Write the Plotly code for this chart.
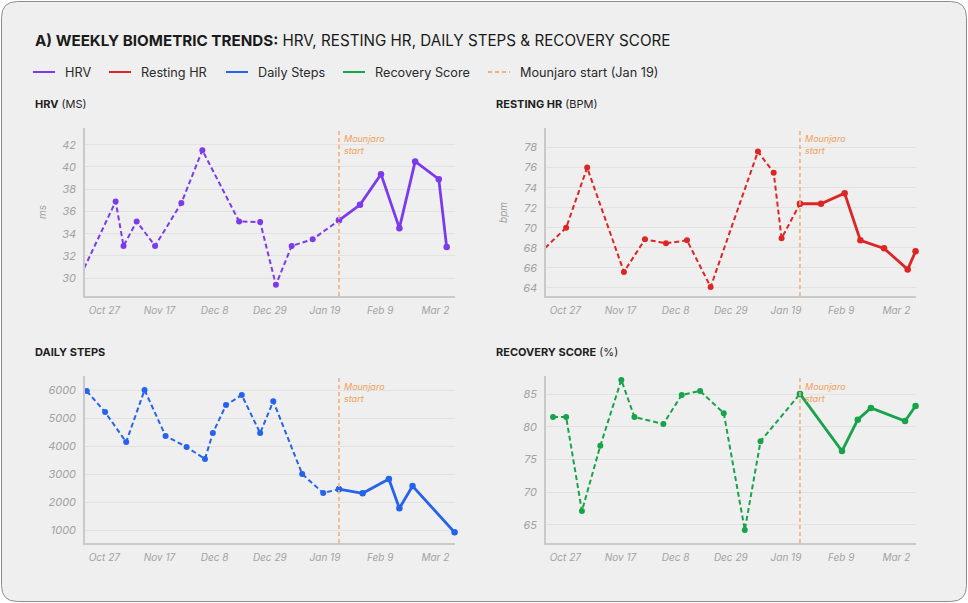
import plotly.graph_objects as go

W, H = 968, 603

# ---------------- data ----------------
MOUNJARO_START = "2025-01-19"

hrv_dates = ["2024-10-14", "2024-10-26", "2024-10-29", "2024-11-03", "2024-11-10", "2024-11-20",
             "2024-11-28", "2024-12-12", "2024-12-20", "2024-12-26", "2025-01-01", "2025-01-09",
             "2025-01-19", "2025-01-27", "2025-02-04", "2025-02-11", "2025-02-17", "2025-02-26",
             "2025-03-01"]
hrv_values = [30.9, 36.9, 32.9, 35.1, 32.9, 36.75, 41.5, 35.1, 35.05, 29.4, 32.9, 33.5,
              35.2, 36.6, 39.35, 34.5, 40.5, 38.9, 32.8]

rhr_dates = ["2024-10-14", "2024-10-22", "2024-10-30", "2024-11-13", "2024-11-21", "2024-11-29",
             "2024-12-07", "2024-12-16", "2025-01-03", "2025-01-09", "2025-01-12", "2025-01-19",
             "2025-01-27", "2025-02-05", "2025-02-11", "2025-02-20", "2025-03-01", "2025-03-04"]
rhr_values = [68.0, 70.0, 76.0, 65.6, 68.85, 68.45, 68.75, 64.1, 77.6, 75.5, 68.95, 72.4,
              72.4, 73.45, 68.75, 67.95, 65.85, 67.65]

steps_dates = ["2024-10-15", "2024-10-22", "2024-10-30", "2024-11-06", "2024-11-14", "2024-11-22",
               "2024-11-29", "2024-12-02", "2024-12-07", "2024-12-13", "2024-12-20", "2024-12-25",
               "2025-01-05", "2025-01-13", "2025-01-19", "2025-01-28", "2025-02-07", "2025-02-11",
               "2025-02-16", "2025-03-04"]
steps_values = [5960, 5210, 4140, 6000, 4360, 3960, 3540, 4460, 5460, 5820, 4460, 5600,
                3000, 2320, 2460, 2310, 2820, 1780, 2570, 920]

rec_dates = ["2024-10-17", "2024-10-22", "2024-10-28", "2024-11-04", "2024-11-12", "2024-11-17",
             "2024-11-28", "2024-12-05", "2024-12-12", "2024-12-21", "2024-12-29", "2025-01-04",
             "2025-01-19", "2025-02-04", "2025-02-10", "2025-02-15", "2025-02-28", "2025-03-04"]
rec_values = [81.5, 81.5, 67.1, 77.1, 87.2, 81.5, 80.45, 84.9, 85.5, 82.1, 64.2, 77.8,
              85.05, 76.3, 81.1, 82.9, 80.9, 83.2]

tick_dates = ["2024-10-27", "2024-11-17", "2024-12-08", "2024-12-29", "2025-01-19", "2025-02-09", "2025-03-02"]
tick_labels = ["Oct 27", "Nov 17", "Dec 8", "Dec 29", "Jan 19", "Feb 9", "Mar 2"]

series_names = ["HRV", "Resting HR", "Daily Steps", "Recovery Score"]
series_colors = ["#7c3aed", "#dc2626", "#2563eb", "#16a34a"]
ORANGE = "#f3b07a"
ORANGE_TXT = "#ef9f55"

# ---------------- helpers ----------------
def X(px):
    return px / W

def Y(py):
    return 1 - py / H

panels = [
    dict(dates=hrv_dates, vals=hrv_values, color=series_colors[0], ax="", rng=[28.4, 43.5], dtick=2,
         dom_x=[85, 455], dom_y=[128, 296], title="<b>HRV</b> (MS)", tx=33, ty=104, ytitle="ms", ytx=42),
    dict(dates=rhr_dates, vals=rhr_values, color=series_colors[1], ax="2", rng=[63.2, 79.95], dtick=2,
         dom_x=[546, 916], dom_y=[128, 296], title="<b>RESTING HR</b> (BPM)", tx=494, ty=104, ytitle="bpm", ytx=503),
    dict(dates=steps_dates, vals=steps_values, color=series_colors[2], ax="3", rng=[536, 6500], dtick=1000,
         dom_x=[85, 455], dom_y=[376, 543], title="<b>DAILY STEPS</b>", tx=33, ty=352, ytitle=None, ytx=None),
    dict(dates=rec_dates, vals=rec_values, color=series_colors[3], ax="4", rng=[62.2, 87.8], dtick=5,
         dom_x=[546, 916], dom_y=[376, 543], title="<b>RECOVERY SCORE</b> (%)", tx=494, ty=352, ytitle=None, ytx=None),
]

fig = go.Figure()
shapes = []
annotations = []

# card background
l, t, R, B, r = 1.5, 1.5, 966.5, 601.5, 16
card_path = (
    f"M {X(l+r)} {Y(t)} L {X(R-r)} {Y(t)} Q {X(R)} {Y(t)} {X(R)} {Y(t+r)} "
    f"L {X(R)} {Y(B-r)} Q {X(R)} {Y(B)} {X(R-r)} {Y(B)} "
    f"L {X(l+r)} {Y(B)} Q {X(l)} {Y(B)} {X(l)} {Y(B-r)} "
    f"L {X(l)} {Y(t+r)} Q {X(l)} {Y(t)} {X(l+r)} {Y(t)} Z"
)
shapes.append(dict(type="path", path=card_path, xref="paper", yref="paper",
                   fillcolor="#efefef", line=dict(color="#8c8c8c", width=1), layer="below"))

x_range = ["2024-10-14 08:00", "2025-03-04 04:00"]

for p in panels:
    xa = "x" + p["ax"]
    ya = "y" + p["ax"]
    pre_d = [d for d in p["dates"] if d <= MOUNJARO_START]
    pre_v = [v for d, v in zip(p["dates"], p["vals"]) if d <= MOUNJARO_START]
    post_d = [d for d in p["dates"] if d >= MOUNJARO_START]
    post_v = [v for d, v in zip(p["dates"], p["vals"]) if d >= MOUNJARO_START]
    fig.add_trace(go.Scatter(x=pre_d, y=pre_v, mode="lines+markers", xaxis=xa, yaxis=ya,
                             line=dict(color=p["color"], width=2, dash="5px,3px"),
                             marker=dict(size=6, color=p["color"]), cliponaxis=False,
                             showlegend=False, hoverinfo="x+y"))
    fig.add_trace(go.Scatter(x=post_d, y=post_v, mode="lines+markers", xaxis=xa, yaxis=ya,
                             line=dict(color=p["color"], width=2.8),
                             marker=dict(size=6.5, color=p["color"]), cliponaxis=False,
                             showlegend=False, hoverinfo="x+y"))

    dx = [X(p["dom_x"][0]), X(p["dom_x"][1])]
    dy = [Y(p["dom_y"][1]), Y(p["dom_y"][0])]
    xkey = "xaxis" + p["ax"]
    ykey = "yaxis" + p["ax"]
    fig.layout[xkey] = dict(domain=dx, anchor=ya, type="date", range=x_range,
                            tickvals=tick_dates, ticktext=tick_labels, showgrid=False,
                            showline=True, linecolor="#c9c9c9", linewidth=1.5, ticks="",
                            ticklabelshift=-14, ticklabelstandoff=4,
                            tickfont=dict(size=10, color="#a3a3a3", style="italic"),
                            zeroline=False, fixedrange=True)
    fig.layout[ykey] = dict(domain=dy, anchor=xa, range=p["rng"], dtick=p["dtick"], tick0=0,
                            showgrid=True, gridcolor="#e2e2e2", gridwidth=1.2,
                            showline=True, linecolor="#c9c9c9", linewidth=1.5, ticks="",
                            ticklabelstandoff=5,
                            tickfont=dict(size=11, color="#a3a3a3", style="italic"),
                            zeroline=False, fixedrange=True)

    # Mounjaro start line
    shapes.append(dict(type="line", xref=xa, yref=ya + " domain", x0=MOUNJARO_START, x1=MOUNJARO_START,
                       y0=0, y1=1, line=dict(color=ORANGE, width=1.6, dash="4px,3px"), layer="above"))
    annotations.append(dict(x=MOUNJARO_START, xref=xa, y=1, yref=ya + " domain", xshift=3, yshift=-3,
                            text="Mounjaro<br>start", showarrow=False, xanchor="left", yanchor="top",
                            align="left", font=dict(size=9, color=ORANGE_TXT, style="italic")))
    # panel title
    annotations.append(dict(x=X(p["tx"]), y=Y(p["ty"]), xref="paper", yref="paper", text=p["title"],
                            showarrow=False, xanchor="left", yanchor="middle",
                            font=dict(size=11, color="#1f1f1f")))
    if p["ytitle"]:
        annotations.append(dict(x=X(p["ytx"]), y=(dy[0] + dy[1]) / 2, xref="paper", yref="paper",
                                text=p["ytitle"], textangle=-90, showarrow=False,
                                xanchor="center", yanchor="middle",
                                font=dict(size=10, color="#a3a3a3", style="italic")))

# main title
annotations.append(dict(x=X(33), y=Y(40), xref="paper", yref="paper",
                        text="<b>A) WEEKLY BIOMETRIC TRENDS:</b> HRV, RESTING HR, DAILY STEPS &amp; RECOVERY SCORE",
                        showarrow=False, xanchor="left", yanchor="middle",
                        font=dict(size=15.2, color="#1a1a1a")))

# legend (manual)
legend_items = series_names + ["Mounjaro start (Jan 19)"]
legend_colors = series_colors + [ORANGE]
legend_x = [33, 109, 226, 343, 488]
for name, col, lx in zip(legend_items, legend_colors, legend_x):
    dash = "4px,3px" if name.startswith("Mounjaro") else "solid"
    shapes.append(dict(type="line", xref="paper", yref="paper", x0=X(lx), x1=X(lx + 22),
                       y0=Y(72), y1=Y(72), line=dict(color=col, width=2, dash=dash)))
    annotations.append(dict(x=X(lx + 30), y=Y(72), xref="paper", yref="paper", text=name,
                            showarrow=False, xanchor="left", yanchor="middle",
                            font=dict(size=12.7, color="#2a2a2a")))

fig.update_layout(
    width=W, height=H,
    margin=dict(l=0, r=0, t=0, b=0),
    paper_bgcolor="#ffffff",
    plot_bgcolor="rgba(0,0,0,0)",
    font=dict(family="Inter", color="#333333"),
    showlegend=False,
    shapes=shapes,
    annotations=annotations,
)

fig.write_html("out.html", config={"displayModeBar": False},
               post_script="document.body.style.margin='0';document.body.style.overflow='hidden';")
